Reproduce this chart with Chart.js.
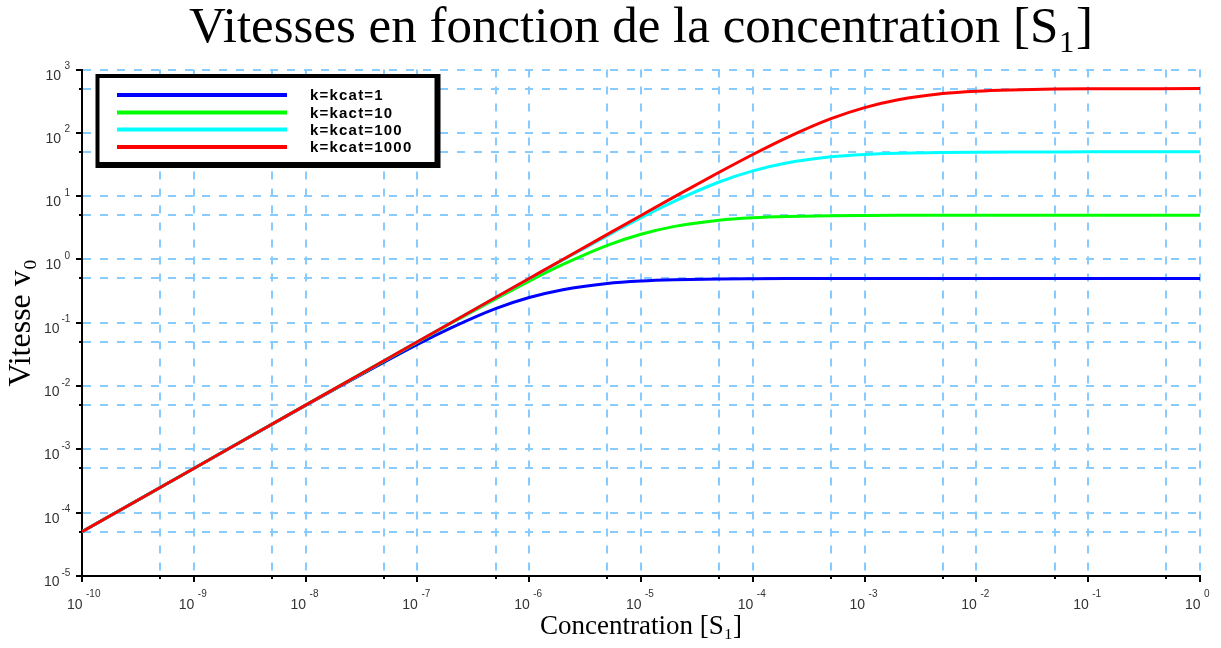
<!DOCTYPE html>
<html><head><meta charset="utf-8">
<script src="https://cdn.jsdelivr.net/npm/chart.js@4/dist/chart.umd.min.js"></script>
<style>html,body{margin:0;padding:0;background:#fff}#wrap{width:1221px;height:648px}</style>
</head><body><div id="wrap"><canvas id="c" width="1221" height="648"></canvas></div>
<script>
// ---- data ----
const concentration = [1e-10, 1e-9, 1e-8, 1e-7, 2e-7, 5e-7, 1e-6, 2e-6, 5e-6, 1e-5, 2e-5, 5e-5, 1e-4, 2e-4, 5e-4, 1e-3, 2e-3, 5e-3, 1e-2, 2e-2, 5e-2, 1e-1, 1];
const vitesseK1    = [5e-5, 5e-4, 4.95e-3, 0.0455, 0.083, 0.167, 0.25, 0.333, 0.417, 0.455, 0.476, 0.49, 0.495, 0.498, 0.499, 0.5, 0.5, 0.5, 0.5, 0.5, 0.5, 0.5, 0.5];
const vitesseK10   = [5e-5, 5e-4, 5e-3, 0.0495, 0.098, 0.238, 0.455, 0.833, 1.67, 2.5, 3.33, 4.17, 4.55, 4.76, 4.9, 4.95, 4.98, 4.99, 5, 5, 5, 5, 5];
const vitesseK100  = [5e-5, 5e-4, 5e-3, 0.05, 0.1, 0.249, 0.495, 0.98, 2.38, 4.55, 8.33, 16.7, 25, 33.3, 41.7, 45.5, 47.6, 49, 49.5, 49.75, 49.9, 50, 50];
const vitesseK1000 = [5e-5, 5e-4, 5e-3, 0.05, 0.1, 0.25, 0.5, 1.0, 2.49, 4.95, 9.8, 23.8, 45.5, 83.3, 167, 250, 333, 417, 455, 476, 490, 495, 500];
const seriesLabels = ['k=kcat=1', 'k=kact=10', 'k=kcat=100', 'k=kcat=1000'];
const seriesColors = ['#0000ff', '#00ff00', '#00ffff', '#ff0000'];
const xTickValues = [1e-10, 5e-10, 1e-9, 5e-9, 1e-8, 5e-8, 1e-7, 5e-7, 1e-6, 5e-6, 1e-5, 5e-5, 1e-4, 5e-4, 1e-3, 5e-3, 1e-2, 5e-2, 1e-1, 5e-1, 1];
const yTickValues = [1e-5, 5e-5, 1e-4, 5e-4, 1e-3, 5e-3, 1e-2, 5e-2, 1e-1, 5e-1, 1, 5, 10, 50, 100, 500, 1000];
const titleText = 'Vitesses en fonction de la concentration [S\u2081]';
const xTitle = 'Concentration [S\u2081]';
const yTitle = 'Vitesse v\u2080';

function isMajor(v){ const l = Math.log10(v); return Math.abs(l - Math.round(l)) < 1e-6; }
function expOf(v){ return Math.round(Math.log10(v)); }

const allSeries = [vitesseK1, vitesseK10, vitesseK100, vitesseK1000];
const datasets = allSeries.map((vals, i) => ({
  label: seriesLabels[i],
  data: concentration.map((s, j) => ({x: s, y: vals[j]})),
  borderColor: seriesColors[i],
  backgroundColor: seriesColors[i],
  borderWidth: 3,
  pointRadius: 0,
  fill: false,
  cubicInterpolationMode: 'monotone',
  order: allSeries.length - i
}));

const SANS = '"Liberation Sans", Arial, sans-serif';
const SERIF = '"Liberation Serif", "DejaVu Serif", serif';

const decor = {
  id: 'decor',
  afterDraw(chart){
    const ctx = chart.ctx, xs = chart.scales.x, ys = chart.scales.y;
    ctx.save();
    // tick marks
    ctx.strokeStyle = '#000'; ctx.lineWidth = 2; ctx.setLineDash([]);
    xs.ticks.forEach(t => {
      const px = Math.round(xs.getPixelForValue(t.value));
      const len = isMajor(t.value) ? 6 : 3;
      ctx.beginPath(); ctx.moveTo(px, ys.bottom); ctx.lineTo(px, ys.bottom + len); ctx.stroke();
    });
    ys.ticks.forEach(t => {
      const py = Math.round(ys.getPixelForValue(t.value));
      const len = isMajor(t.value) ? 6 : 3;
      ctx.beginPath(); ctx.moveTo(xs.left, py); ctx.lineTo(xs.left - len, py); ctx.stroke();
    });
    // tick labels 10^n from the scales
    ctx.fillStyle = '#333'; ctx.textBaseline = 'alphabetic';
    xs.ticks.forEach(t => {
      if (!isMajor(t.value)) return;
      const px = xs.getPixelForValue(t.value);
      ctx.font = '14px ' + SANS; ctx.textAlign = 'right';
      ctx.fillText('10', px + 0.5, ys.bottom + 32.5);
      ctx.font = '10px ' + SANS; ctx.textAlign = 'left';
      ctx.fillText(String(expOf(t.value)), px + 4, ys.bottom + 20.5);
    });
    ys.ticks.forEach(t => {
      if (!isMajor(t.value)) return;
      const py = ys.getPixelForValue(t.value);
      const e = expOf(t.value);
      const neg = e < 0;
      ctx.font = '14px ' + SANS; ctx.textAlign = 'left';
      ctx.fillText('10', neg ? 44 : 45.5, py + 10);
      ctx.font = '10px ' + SANS;
      ctx.fillText(String(e), neg ? 61.5 : 64.5, py - 0.5);
    });
    // legend box
    ctx.fillStyle = '#000'; ctx.fillRect(95.5, 74, 345, 94);
    ctx.fillStyle = '#fff'; ctx.fillRect(99.5, 78, 335, 84);
    const rows = [95, 112.5, 129.5, 147];
    ctx.font = 'bold 15px ' + SANS;
    try { ctx.letterSpacing = '1.2px'; } catch (e) {}
    ctx.textBaseline = 'middle'; ctx.textAlign = 'left';
    chart.data.datasets.forEach((ds, i) => {
      ctx.strokeStyle = ds.borderColor; ctx.lineWidth = 4; ctx.lineCap = 'butt';
      ctx.beginPath(); ctx.moveTo(117, rows[i]); ctx.lineTo(287, rows[i]); ctx.stroke();
      ctx.fillStyle = '#000';
      ctx.fillText(ds.label, 310, rows[i] + 1);
    });
    ctx.restore();
  }
};

new Chart(document.getElementById('c'), {
  type: 'line',
  data: { datasets },
  options: {
    responsive: false,
    animation: false,
    devicePixelRatio: 1,
    layout: { padding: { left: 0, right: 21, top: 0, bottom: 0 } },
    plugins: {
      legend: { display: false },
      tooltip: { enabled: false },
      title: {
        display: true, text: titleText, fullSize: false, color: '#000',
        font: { family: SERIF, size: 51, weight: 'normal', lineHeight: 1.0 },
        padding: { top: 3, bottom: 15.5 }
      }
    },
    scales: {
      x: {
        type: 'logarithmic', min: 1e-10, max: 1,
        afterBuildTicks: s => { s.ticks = xTickValues.map(v => ({ value: v, major: isMajor(v) })); },
        afterFit: s => { s.height = 72; },
        ticks: { display: false, autoSkip: false, maxRotation: 0, minRotation: 0 },
        grid: { color: '#88ccff', lineWidth: 2, drawTicks: false },
        border: { display: true, color: '#000', width: 2, dash: [8, 9] },
        title: { display: true, text: xTitle, color: '#000',
                 font: { family: SERIF, size: 27, weight: 'normal', lineHeight: 1.0 },
                 padding: { top: 0, bottom: 8 } }
      },
      y: {
        type: 'logarithmic', min: 1e-5, max: 1000,
        afterBuildTicks: s => { s.ticks = yTickValues.map(v => ({ value: v, major: isMajor(v) })); },
        afterFit: s => { s.width = 82; },
        ticks: { display: false, autoSkip: false },
        grid: { color: '#88ccff', lineWidth: 2, drawTicks: false },
        border: { display: true, color: '#000', width: 2, dash: [8, 9] },
        title: { display: true, text: yTitle, color: '#000',
                 font: { family: SERIF, size: 32, weight: 'normal', lineHeight: 1.0 },
                 padding: { top: 6, bottom: 0 } }
      }
    }
  },
  plugins: [decor]
});
</script>
</body></html>
